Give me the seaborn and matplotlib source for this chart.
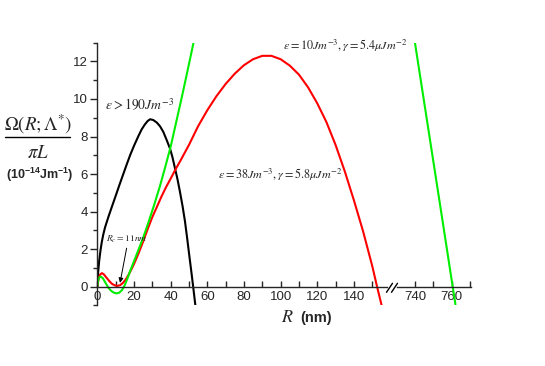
import matplotlib
matplotlib.use('Agg')
import matplotlib.pyplot as plt
import seaborn as sns
from matplotlib.ticker import MultipleLocator
from matplotlib.lines import Line2D

# --- curves: R in nm, Omega/(pi L) in 1e-14 J/m ---
black_R = [0, 0.4, 1, 1.7, 2.4, 3.2, 4.2, 6, 8, 10, 12, 14, 16, 18, 20, 22.4,
           24.2, 26, 27.5, 28.8, 30.5, 32.4, 34.2, 36, 37.9, 39.7, 41, 42.4,
           43.8, 45.1, 46.5, 47.8, 49, 50.2, 51.3, 52.3, 53.2, 54]
black_omega = [0, 0.7, 1.35, 1.9, 2.35, 2.75, 3.15, 3.7, 4.27, 4.83, 5.4, 5.95,
               6.5, 7.03, 7.5, 8.02, 8.38, 8.65, 8.83, 8.92, 8.88, 8.75, 8.55,
               8.25, 7.8, 7.35, 6.9, 6.3, 5.7, 5.05, 4.3, 3.5, 2.6, 1.65, 0.8,
               0.0, -0.75, -1.4]

red_R = [0, 0.8, 1.6, 2.5, 3.5, 5, 6.5, 8, 9.5, 11, 12.5, 14, 15.5, 17, 18.5, 20,
         22.4, 25, 27.8, 30, 32.5, 35, 37.5, 40, 42.4, 45, 47.5, 50, 55, 60, 65,
         70, 75, 80, 85, 90, 95, 100, 105, 110, 115, 120, 125, 130, 135, 140,
         145, 150, 152.5, 155, 156]
red_omega = [0, 0.45, 0.65, 0.72, 0.66, 0.48, 0.3, 0.15, 0.07, 0.04, 0.08, 0.2,
             0.38, 0.62, 0.9, 1.2, 1.75, 2.4, 3.15, 3.7, 4.25, 4.8, 5.3, 5.75,
             6.2, 6.65, 7.1, 7.55, 8.55, 9.4, 10.15, 10.8, 11.35, 11.8, 12.12,
             12.3, 12.3, 12.12, 11.78, 11.3, 10.62, 9.77, 8.77, 7.55, 6.15, 4.6,
             2.95, 1.1, 0.05, -0.95, -1.35]

green_R = [0, 0.5, 1.2, 2, 3, 4.5, 6, 7.5, 9, 10.5, 12, 13.5, 15, 16.5, 18, 20,
           22, 25, 28, 31, 34, 37, 40, 43, 46, 49, 52.5, 54]
green_omega = [0, 0.35, 0.5, 0.53, 0.45, 0.2, -0.05, -0.22, -0.32, -0.36, -0.32,
               -0.18, 0.08, 0.45, 0.85, 1.35, 1.85, 2.6, 3.45, 4.35, 5.3, 6.35,
               7.45, 8.75, 10.05, 11.4, 13.0, 13.7]

# far branch of the green curve, right of the axis break
green_far_R = [738.5, 740, 745, 750, 755, 760.6, 762.5]
green_far_omega = [14.0, 13.0, 9.85, 6.7, 3.55, 0.0, -1.2]

left_ticks = [0, 20, 40, 60, 80, 100, 120, 140]
right_ticks = [740, 760]
y_ticks = [0, 2, 4, 6, 8, 10, 12]

GREEN = '#00ee00'

sns.set_style('ticks')
plt.rcParams['font.family'] = ['Liberation Sans', 'DejaVu Sans']
plt.rcParams['mathtext.fontset'] = 'stix'
plt.rcParams['mathtext.bf'] = 'Liberation Sans:bold'
plt.rcParams['axes.linewidth'] = 1.0

W, H = 545, 366
fig = plt.figure(figsize=(W / 100, H / 100), dpi=100)


def px_box(x0, x1, ytop, ybot):
    return [x0 / W, 1 - ybot / H, (x1 - x0) / W, (ybot - ytop) / H]


ax = fig.add_axes(px_box(97.3, 387, 42.7, 305.4))
ax2 = fig.add_axes(px_box(397, 471, 42.7, 305.4))

sns.lineplot(x=black_R, y=black_omega, ax=ax, color='black', lw=1.5)
sns.lineplot(x=red_R, y=red_omega, ax=ax, color='red', lw=1.5)
sns.lineplot(x=green_R, y=green_omega, ax=ax, color=GREEN, lw=1.5)
sns.lineplot(x=green_far_R, y=green_far_omega, ax=ax2, color=GREEN, lw=1.5)

for a in (ax, ax2):
    a.set_ylim(-1, 13)
    a.spines['top'].set_visible(False)
    a.spines['right'].set_visible(False)
    a.spines['bottom'].set_position(('data', 0))
    a.set_facecolor('none')
    a.set_xlabel('')
    a.set_ylabel('')
    a.tick_params(axis='x', which='both', direction='in', width=1, length=4,
                  labelsize=9.5, pad=3)

ax.set_xlim(0, 158.05)
ax.set_xticks(left_ticks)
ax.xaxis.set_minor_locator(MultipleLocator(10))
ax.set_yticks(y_ticks)
ax.yaxis.set_minor_locator(MultipleLocator(1))
ax.tick_params(axis='y', which='major', direction='out', length=5, width=1,
               labelsize=9.5, pad=2)
ax.tick_params(axis='y', which='minor', direction='out', length=3, width=1)

ax2.set_xlim(730.2, 770.6)
ax2.set_xticks(right_ticks)
ax2.xaxis.set_minor_locator(MultipleLocator(10))
ax2.spines['left'].set_visible(False)
ax2.set_yticks([])

# axis break marks
for x0 in (386.5, 391.5):
    fig.add_artist(Line2D([x0 / W, (x0 + 6) / W],
                          [1 - 292.3 / H, 1 - 283.3 / H],
                          color='black', lw=1.0))

# y label as a fraction
fig.text(38 / W, 1 - 124 / H, r'$\Omega(R;\Lambda^{*})$', ha='center',
         va='center', fontsize=13.5)
fig.add_artist(Line2D([5 / W, 70 / W], [1 - 136.7 / H, 1 - 136.7 / H],
                      color='black', lw=1.0))
fig.text(38 / W, 1 - 154 / H, r'$\pi L$', ha='center', va='center',
         fontsize=13.5)
fig.text(39.5 / W, 1 - 175 / H, r'(10$^{\mathbf{-14}}$Jm$^{\mathbf{-1}}$)',
         ha='center', va='center', fontsize=9, fontweight='bold',
         math_fontfamily='custom')

# x label
fig.text(287 / W, 1 - 318 / H, r'$R$', ha='center', va='center', fontsize=13)
fig.text(316 / W, 1 - 318 / H, '(nm)', ha='center', va='center',
         fontsize=10.5, fontweight='bold')

# curve annotations
fig.text(105 / W, 1 - 105 / H, r'$\varepsilon > 190Jm^{-3}$', ha='left',
         va='center', fontsize=9.8)
fig.text(283 / W, 1 - 46 / H, r'$\varepsilon = 10Jm^{-3}, \gamma = 5.4\mu Jm^{-2}$',
         ha='left', va='center', fontsize=8.7)
fig.text(218 / W, 1 - 175 / H, r'$\varepsilon = 38Jm^{-3}, \gamma = 5.8\mu Jm^{-2}$',
         ha='left', va='center', fontsize=8.7)
fig.text(106 / W, 1 - 239.5 / H, r'$R_c = 11nm$', ha='left', va='center',
         fontsize=6.8)
ax.annotate('', xy=(12.4, 0.2), xytext=(16.0, 2.05),
            arrowprops=dict(arrowstyle='-|>', color='black', lw=0.7,
                            mutation_scale=7, shrinkA=0, shrinkB=0))

fig.savefig('out.png', dpi=100)
